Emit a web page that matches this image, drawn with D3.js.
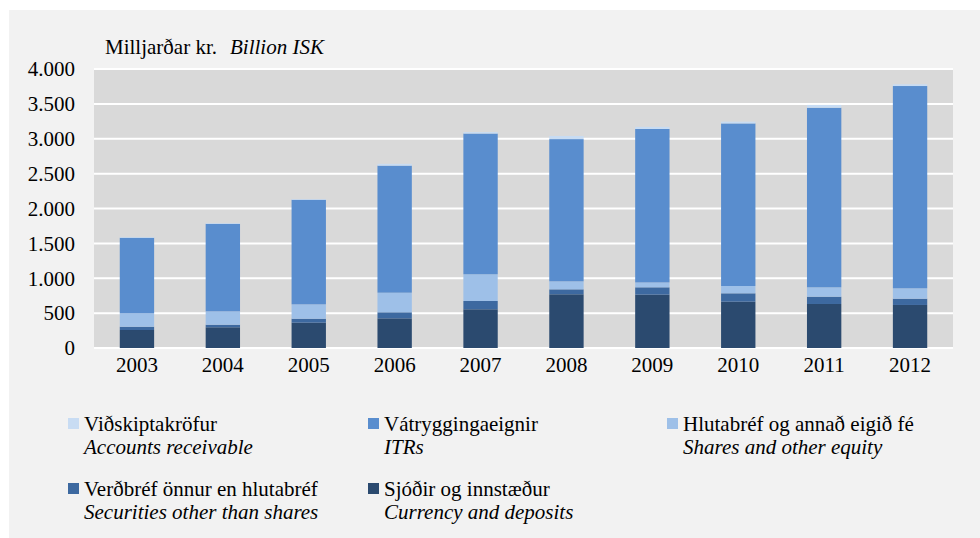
<!DOCTYPE html>
<html>
<head>
<meta charset="utf-8">
<script src="https://d3js.org/d3.v7.min.js"></script>
<style>
  body { margin: 0; background: #ffffff; }
  .grid line { stroke: #ffffff; stroke-width: 2; }
</style>
</head>
<body>
<svg width="980" height="538"></svg>
<script>
// years and stacked series (billion ISK), bottom to top
const years = ["2003","2004","2005","2006","2007","2008","2009","2010","2011","2012"];
const sjodir     = [258, 297, 363, 425, 555, 770, 765, 664, 631, 617];
const verdbref   = [47, 37, 57, 87, 119, 71, 105, 120, 105, 90];
const hlutabref  = [192, 192, 206, 281, 383, 115, 70, 105, 134, 149];
const vatrygging = [1083, 1254, 1499, 1822, 2018, 2039, 2200, 2331, 2575, 2900];
const vidskipta  = [10, 10, 10, 25, 20, 45, 30, 25, 40, 25];
const yTicks = [0, 500, 1000, 1500, 2000, 2500, 3000, 3500, 4000];

const seriesKeys = ["sjodir", "verdbref", "hlutabref", "vatrygging", "vidskipta"];
const colors = {
  sjodir: "#2b4a6f", verdbref: "#3d69a0", hlutabref: "#9ec0e8",
  vatrygging: "#598dce", vidskipta: "#c8dcf3"
};
// legend order: rows of three
const legendItems = [
  {key: "vidskipta", is: "Viðskiptakröfur", en: "Accounts receivable"},
  {key: "vatrygging", is: "Vátryggingaeignir", en: "ITRs"},
  {key: "hlutabref", is: "Hlutabréf og annað eigið fé", en: "Shares and other equity"},
  {key: "verdbref", is: "Verðbréf önnur en hlutabréf", en: "Securities other than shares"},
  {key: "sjodir", is: "Sjóðir og innstæður", en: "Currency and deposits"}
];
const FONT = "Liberation Serif";
const SIZE = "21px";

const table = years.map((y, i) => ({
  year: y, sjodir: sjodir[i], verdbref: verdbref[i], hlutabref: hlutabref[i],
  vatrygging: vatrygging[i], vidskipta: vidskipta[i]
}));

const svg = d3.select("svg");
svg.append("rect").attr("x", 9).attr("y", 10).attr("width", 971).attr("height", 528)
  .attr("fill", "#f2f2f2");

const plot = {left: 94, right: 953, top: 69, bottom: 348};

const x = d3.scaleBand().domain(years).range([plot.left, plot.right]).paddingInner(0.6).paddingOuter(0.3);
const y = d3.scaleLinear().domain([0, 4000]).range([plot.bottom, plot.top]);

svg.append("rect").attr("x", plot.left).attr("y", plot.top)
  .attr("width", plot.right - plot.left).attr("height", plot.bottom - plot.top)
  .attr("fill", "#d9d9d9");

// gridlines
svg.append("g").attr("class", "grid")
  .selectAll("line").data(yTicks).join("line")
  .attr("x1", plot.left).attr("x2", plot.right)
  .attr("y1", d => y(d)).attr("y2", d => y(d));

// y tick labels
svg.append("g").selectAll("text").data(yTicks).join("text")
  .attr("x", 75).attr("y", d => y(d)).attr("dy", "0.35em")
  .attr("text-anchor", "end")
  .style("font-family", FONT).style("font-size", SIZE)
  .text(d => d3.format(",")(d).replace(/,/g, "."));

// stacked bars
const stack = d3.stack().keys(seriesKeys)(table);
svg.append("g").selectAll("g").data(stack).join("g")
  .attr("fill", s => colors[s.key])
  .selectAll("rect").data(s => s).join("rect")
  .attr("x", d => x(d.data.year))
  .attr("width", x.bandwidth())
  .attr("y", d => y(d[1]))
  .attr("height", d => y(d[0]) - y(d[1]));

// x labels
svg.append("g").selectAll("text").data(years).join("text")
  .attr("x", d => x(d) + x.bandwidth() / 2).attr("y", 372)
  .attr("text-anchor", "middle")
  .style("font-family", FONT).style("font-size", SIZE)
  .text(d => d);

// unit title
const title = svg.append("text").attr("x", 105).attr("y", 54)
  .style("font-family", FONT).style("font-size", SIZE);
title.append("tspan").text("Milljarðar kr.");
title.append("tspan").attr("x", 230).style("font-style", "italic").text("Billion ISK");

// legend
const colX = [68, 368, 667];
const rowY = [431, 496];
legendItems.forEach((item, i) => {
  const cx = colX[i % 3], ry = rowY[Math.floor(i / 3)];
  const g = svg.append("g").style("font-family", FONT).style("font-size", SIZE);
  g.append("rect").attr("x", cx).attr("y", ry - 13).attr("width", 11).attr("height", 11)
    .attr("fill", colors[item.key]);
  g.append("text").attr("x", cx + 16).attr("y", ry).text(item.is);
  g.append("text").attr("x", cx + 16).attr("y", ry + 23)
    .style("font-style", "italic").text(item.en);
});
</script>
</body>
</html>
